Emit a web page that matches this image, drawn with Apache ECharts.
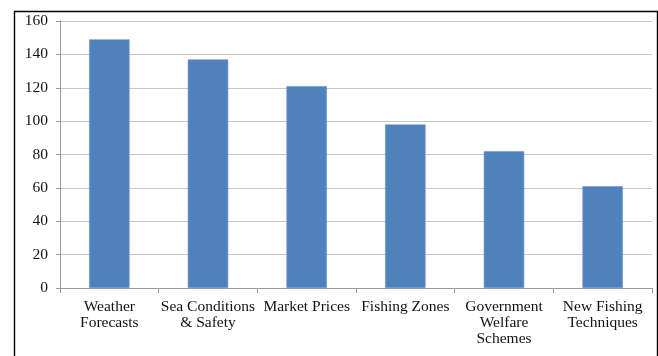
<!DOCTYPE html>
<html>
<head>
<meta charset="utf-8">
<style>
  html, body { margin: 0; padding: 0; background: #fff; }
  #chart { width: 658px; height: 356px; }
</style>
<script src="https://cdn.jsdelivr.net/npm/echarts@6/dist/echarts.min.js"></script>
</head>
<body>
<div id="chart"></div>
<script>
// Information needs reported by fishers (number of respondents)
const categories = [
  'Weather\nForecasts',
  'Sea Conditions\n& Safety',
  'Market Prices',
  'Fishing Zones',
  'Government\nWelfare\nSchemes',
  'New Fishing\nTechniques'
];
const respondents = [149, 137, 121, 98, 82, 61];
const yTicks = { min: 0, max: 160, interval: 20 };

const chart = echarts.init(document.getElementById('chart'), null, { renderer: 'canvas' });

const labelFont = {
  fontFamily: '"Liberation Serif", "Times New Roman", serif',
  fontSize: 15.5,
  color: '#111'
};

chart.setOption({
  animation: false,
  backgroundColor: '#fff',
  graphic: [{
    type: 'rect',
    left: 12,
    top: 9,
    shape: { width: 643, height: 360 },
    style: { fill: 'none', stroke: '#000', lineWidth: 1.4 },
    silent: true
  }],
  grid: { left: 60, top: 21, right: 6, bottom: 68, containLabel: false },
  xAxis: {
    type: 'category',
    data: categories,
    axisLine: { show: true, lineStyle: { color: '#9a9a9a', width: 1 } },
    axisTick: { show: true, length: 5, lineStyle: { color: '#9a9a9a' } },
    axisLabel: Object.assign({ margin: 11, lineHeight: 16, interval: 0 }, labelFont),
    splitLine: { show: false }
  },
  yAxis: {
    type: 'value',
    min: yTicks.min,
    max: yTicks.max,
    interval: yTicks.interval,
    axisLine: { show: true, lineStyle: { color: '#9a9a9a', width: 1 } },
    axisTick: { show: true, length: 4, lineStyle: { color: '#9a9a9a' } },
    axisLabel: Object.assign({ margin: 12 }, labelFont),
    splitLine: { show: true, lineStyle: { color: '#c8c8c8', width: 1.2 } }
  },
  series: [{
    type: 'bar',
    data: respondents,
    barCategoryGap: '59%',
    itemStyle: { color: '#4f81bd', borderColor: '#6d95c9', borderWidth: 0.6 }
  }]
});
</script>
</body>
</html>
